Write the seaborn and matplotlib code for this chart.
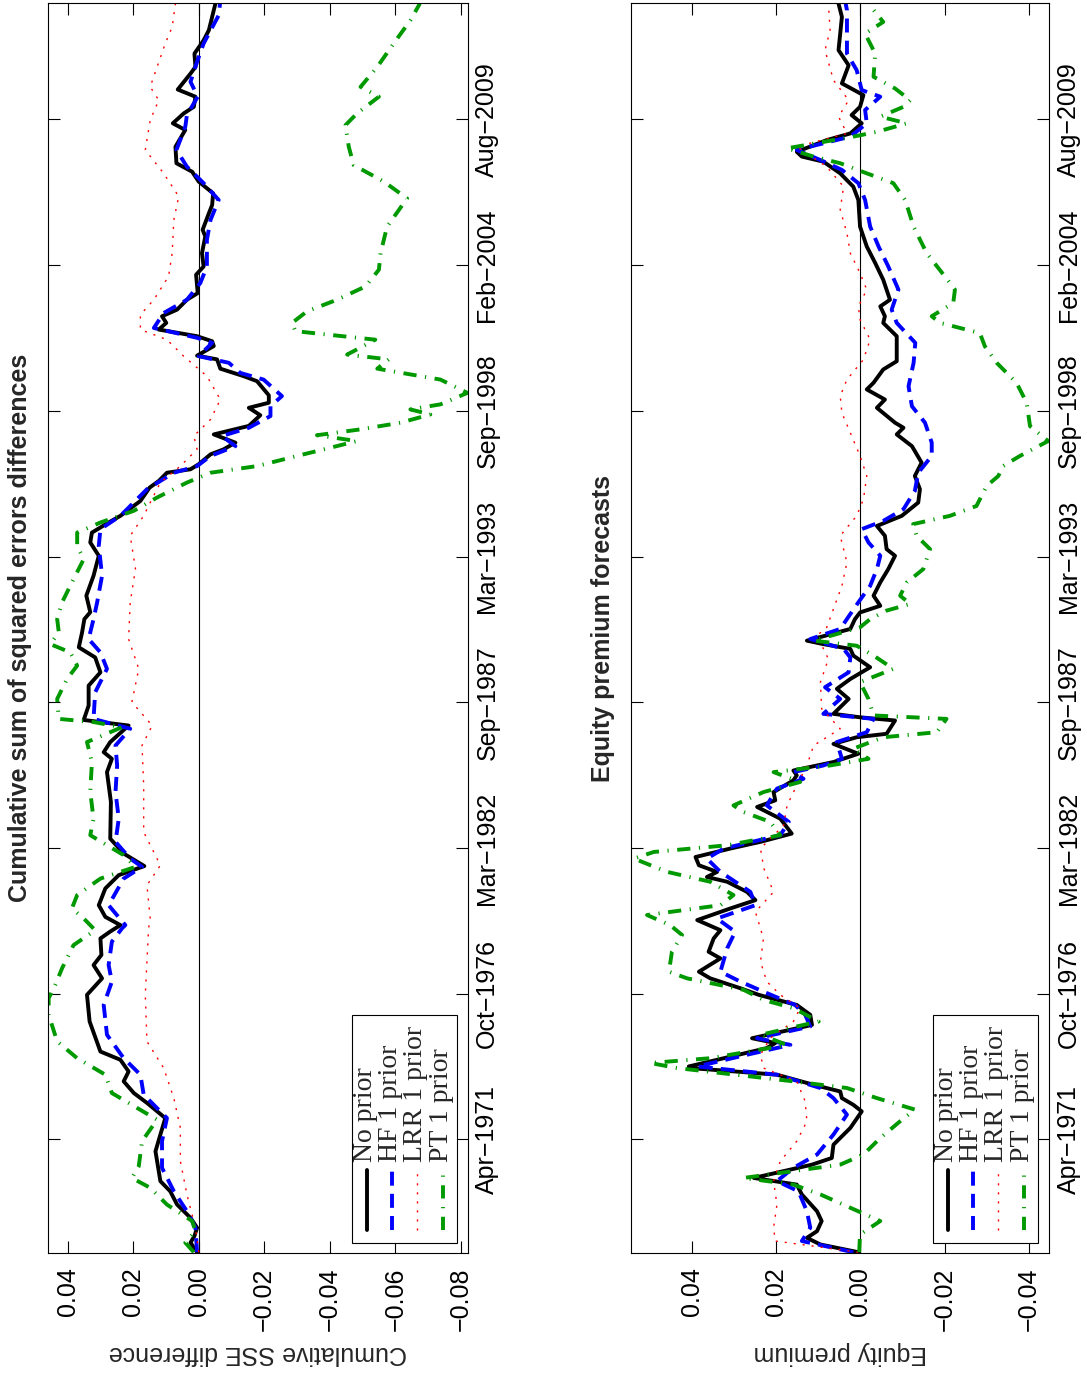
import matplotlib
matplotlib.use("Agg")
import matplotlib.pyplot as plt
import seaborn as sns

# date axis (decimal years) and its tick labels
date_ticks = [1971.288, 1976.764, 1982.240, 1987.715, 1993.191, 1998.667, 2004.142, 2009.618]
date_labels = ["Apr\u22121971", "Oct\u22121976", "Mar\u22121982", "Sep\u22121987",
               "Mar\u22121993", "Sep\u22121998", "Feb\u22122004", "Aug\u22122009"]

sse_ticks = [0.04, 0.02, 0.0, -0.02, -0.04, -0.06, -0.08]
sse_ticklabels = ["0.04", "0.02", "0.00", "\u22120.02", "\u22120.04", "\u22120.06", "\u22120.08"]
ep_ticks = [0.04, 0.02, 0.0, -0.02, -0.04]
ep_ticklabels = ["0.04", "0.02", "0.00", "\u22120.02", "\u22120.04"]

series_names = ["No prior", "HF 1 prior", "LRR 1 prior", "PT 1 prior"]

# ---- cumulative SSE differences ----
sse_none_yr = [1967.05, 1967.41, 1967.66, 1967.97, 1968.34, 1968.84, 1969.34, 1969.72, 1970.47, 1970.84,
               1971.47, 1972.09, 1972.66, 1973.03, 1973.47, 1973.84, 1974.28, 1974.59, 1975.72, 1976.72,
               1977.34, 1977.84, 1978.22, 1978.84, 1979.10, 1979.34, 1979.65, 1980.09, 1980.72, 1981.22,
               1981.56, 1982.03, 1982.59, 1983.97, 1985.09, 1985.59, 1985.84, 1986.22, 1986.84, 1987.05,
               1987.59, 1988.34, 1988.84, 1989.40, 1989.78, 1990.34, 1990.84, 1991.10, 1991.72, 1992.47,
               1993.22, 1993.72, 1994.09, 1994.47, 1994.72, 1995.28, 1995.78, 1996.03, 1996.34, 1996.47,
               1996.66, 1997.03, 1997.22, 1997.47, 1997.78, 1998.10, 1998.50, 1998.78, 1998.97, 1999.25,
               1999.78, 1999.97, 2000.25, 2000.60, 2000.74, 2001.10, 2001.28, 2001.47, 2001.72, 2001.97,
               2002.22, 2002.47, 2002.84, 2003.09, 2003.78, 2004.09, 2004.59, 2005.22, 2005.47, 2006.09,
               2006.40, 2006.84, 2007.28, 2007.65, 2007.97, 2008.59, 2009.22, 2009.47, 2009.84, 2010.09,
               2010.47, 2010.74, 2011.34, 2011.59, 2012.09, 2012.59, 2012.97, 2013.47, 2013.97]
sse_none = [0.0005, 0.0025, 0.0013, 0.0005, 0.0025, 0.0066, 0.0087, 0.0117, 0.0127, 0.0132,
            0.0117, 0.0102, 0.0158, 0.0198, 0.0229, 0.0214, 0.0239, 0.0300, 0.0333, 0.0341,
            0.0295, 0.0321, 0.0297, 0.0300, 0.0270, 0.0239, 0.0285, 0.0305, 0.0285, 0.0244,
            0.0166, 0.0229, 0.0270, 0.0268, 0.0280, 0.0265, 0.0290, 0.0270, 0.0214, 0.0351,
            0.0336, 0.0336, 0.0300, 0.0316, 0.0366, 0.0356, 0.0349, 0.0331, 0.0343, 0.0321,
            0.0305, 0.0331, 0.0326, 0.0275, 0.0239, 0.0178, 0.0150, 0.0122, 0.0097, 0.0025,
            0.0000, -0.0036, -0.0076, -0.0112, -0.0046, -0.0153, -0.0188, -0.0153, -0.0214, -0.0214,
            -0.0178, -0.0137, -0.0066, -0.0056, 0.0005, -0.0046, -0.0041, 0.0005, 0.0122, 0.0099,
            0.0112, 0.0066, 0.0036, 0.0003, 0.0008, -0.0015, -0.0010, -0.0020, -0.0012, -0.0031,
            -0.0041, -0.0044, 0.0000, 0.0020, 0.0068, 0.0071, 0.0041, 0.0079, 0.0046, 0.0015,
            0.0010, 0.0064, 0.0025, 0.0010, 0.0013, -0.0015, -0.0031, -0.0041, -0.0051]

sse_hf_yr = [1967.05, 1967.97, 1968.59, 1969.34, 1970.22, 1971.22, 1972.09, 1972.97, 1973.72, 1974.34,
             1975.22, 1976.34, 1977.22, 1977.84, 1978.72, 1979.22, 1979.34, 1980.09, 1981.09, 1981.53,
             1981.84, 1982.47, 1983.34, 1984.34, 1985.34, 1986.09, 1986.72, 1987.09, 1988.09, 1988.97,
             1989.59, 1990.09, 1990.84, 1991.47, 1992.47, 1993.59, 1994.22, 1994.72, 1995.72, 1996.34,
             1996.59, 1996.97, 1997.34, 1997.72, 1998.03, 1998.47, 1998.84, 1999.22, 1999.84, 2000.09,
             2000.47, 2000.72, 2001.22, 2001.41, 2001.78, 2002.34, 2002.84, 2003.47, 2004.09, 2005.09,
             2005.84, 2006.59, 2007.22, 2007.84, 2008.47, 2009.34, 2009.78, 2010.47, 2011.03, 2011.78,
             2012.47, 2012.84, 2013.53, 2013.97]
sse_hf = [0.0005, 0.0010, 0.0036, 0.0076, 0.0112, 0.0112, 0.0097, 0.0168, 0.0178, 0.0229,
          0.0280, 0.0290, 0.0265, 0.0275, 0.0265, 0.0234, 0.0224, 0.0275, 0.0229, 0.0173,
          0.0209, 0.0254, 0.0244, 0.0254, 0.0249, 0.0254, 0.0209, 0.0321, 0.0316, 0.0280,
          0.0300, 0.0336, 0.0321, 0.0310, 0.0295, 0.0305, 0.0300, 0.0239, 0.0158, 0.0076,
          0.0005, -0.0036, -0.0112, -0.0071, -0.0153, -0.0219, -0.0219, -0.0254, -0.0198, -0.0127,
          -0.0092, 0.0000, -0.0041, 0.0005, 0.0137, 0.0107, 0.0036, -0.0005, -0.0025, -0.0025,
          -0.0036, -0.0061, -0.0015, 0.0036, 0.0068, 0.0041, 0.0036, 0.0003, 0.0025, 0.0005,
          -0.0015, -0.0031, -0.0061, -0.0065]

sse_lrr_yr = [1967.05, 1967.97, 1969.22, 1970.47, 1971.72, 1972.84, 1973.97, 1974.97, 1976.72, 1977.97,
              1979.22, 1979.59, 1980.84, 1981.59, 1982.84, 1984.59, 1986.09, 1986.84, 1987.72, 1988.97,
              1990.09, 1991.47, 1992.72, 1993.97, 1994.72, 1995.22, 1995.97, 1996.59, 1997.22, 1997.72,
              1998.34, 1999.09, 1999.97, 2000.72, 2001.34, 2001.72, 2002.28, 2002.84, 2003.72, 2004.59,
              2005.84, 2006.72, 2007.59, 2008.47, 2009.59, 2010.34, 2010.84, 2011.59, 2012.47, 2013.09,
              2013.97]
sse_lrr = [0.0000, 0.0010, 0.0036, 0.0056, 0.0056, 0.0076, 0.0107, 0.0158, 0.0163, 0.0158,
           0.0153, 0.0148, 0.0158, 0.0117, 0.0168, 0.0168, 0.0173, 0.0142, 0.0204, 0.0183,
           0.0214, 0.0209, 0.0193, 0.0209, 0.0168, 0.0148, 0.0117, 0.0056, 0.0005, 0.0015,
           -0.0036, -0.0066, -0.0025, 0.0046, 0.0097, 0.0178, 0.0178, 0.0137, 0.0092, 0.0081,
           0.0076, 0.0061, 0.0107, 0.0163, 0.0148, 0.0122, 0.0148, 0.0127, 0.0102, 0.0081,
           0.0071]

sse_pt_yr = [1967.05, 1967.41, 1967.84, 1968.22, 1968.84, 1969.47, 1969.84, 1970.28, 1971.22, 1972.03,
             1972.47, 1973.03, 1973.72, 1974.34, 1974.97, 1975.97, 1976.59, 1977.09, 1977.72, 1978.59,
             1979.15, 1979.59, 1979.97, 1980.47, 1981.09, 1981.53, 1981.97, 1982.72, 1983.34, 1984.34,
             1985.47, 1986.22, 1986.78, 1986.97, 1987.09, 1987.84, 1988.59, 1989.09, 1989.59, 1989.90,
             1990.34, 1990.84, 1991.47, 1992.22, 1993.09, 1993.59, 1994.09, 1994.47, 1994.91, 1995.41,
             1995.97, 1996.34, 1996.59, 1996.97, 1997.22, 1997.53, 1997.75, 1997.97, 1998.22, 1998.53,
             1998.72, 1998.91, 1999.34, 1999.84, 2000.25, 2000.60, 2000.78, 2001.34, 2001.66, 2001.97,
             2002.41, 2002.84, 2003.34, 2003.97, 2004.59, 2005.59, 2006.65, 2007.28, 2007.90, 2008.59,
             2009.40, 2009.84, 2010.47, 2010.84, 2011.59, 2012.47, 2013.34, 2013.97]
sse_pt = [0.0015, 0.0041, 0.0010, 0.0020, 0.0097, 0.0148, 0.0204, 0.0183, 0.0173, 0.0127,
          0.0188, 0.0265, 0.0285, 0.0371, 0.0432, 0.0458, 0.0458, 0.0438, 0.0417, 0.0382,
          0.0316, 0.0351, 0.0387, 0.0371, 0.0300, 0.0193, 0.0229, 0.0331, 0.0321, 0.0331,
          0.0326, 0.0341, 0.0234, 0.0321, 0.0427, 0.0432, 0.0402, 0.0371, 0.0392, 0.0453,
          0.0427, 0.0432, 0.0417, 0.0387, 0.0351, 0.0371, 0.0371, 0.0300, 0.0198, 0.0127,
          0.0036, -0.0036, -0.0178, -0.0300, -0.0382, -0.0483, -0.0361, -0.0494, -0.0616, -0.0707,
          -0.0646, -0.0738, -0.0820, -0.0738, -0.0545, -0.0580, -0.0453, -0.0539, -0.0295, -0.0285,
          -0.0331, -0.0422, -0.0509, -0.0550, -0.0555, -0.0575, -0.0636, -0.0565, -0.0473, -0.0458,
          -0.0448, -0.0483, -0.0550, -0.0494, -0.0545, -0.0595, -0.0646, -0.0675]

# ---- equity premium forecasts ----
ep_none_yr = [1967.05, 1967.34, 1967.59, 1967.84, 1968.22, 1968.59, 1969.22, 1969.59, 1969.84, 1970.34,
              1970.59, 1971.09, 1971.72, 1972.34, 1972.59, 1972.84, 1973.09, 1973.34, 1973.72, 1973.97,
              1974.03, 1974.72, 1974.91, 1975.09, 1975.59, 1975.97, 1976.34, 1976.72, 1976.97, 1977.34,
              1977.59, 1978.09, 1978.34, 1978.84, 1979.15, 1979.53, 1979.97, 1980.28, 1980.59, 1980.97,
              1981.15, 1981.34, 1981.59, 1981.90, 1982.22, 1982.47, 1982.78, 1983.34, 1983.78, 1984.03,
              1984.34, 1984.78, 1984.97, 1985.15, 1985.47, 1985.78, 1986.15, 1986.40, 1986.53, 1987.03,
              1987.15, 1987.28, 1987.84, 1988.22, 1988.59, 1989.03, 1989.47, 1989.72, 1989.90, 1990.03,
              1990.47, 1990.84, 1991.09, 1991.34, 1991.72, 1992.22, 1992.72, 1993.22, 1993.47, 1993.97,
              1994.34, 1994.72, 1995.22, 1995.72, 1996.22, 1996.72, 1997.34, 1997.78, 1998.03, 1998.22,
              1998.78, 1999.09, 1999.47, 1999.72, 2000.22, 2000.53, 2001.47, 2001.97, 2002.22, 2002.59,
              2002.84, 2003.59, 2004.22, 2004.84, 2005.59, 2006.59, 2007.09, 2007.59, 2008.03, 2008.22,
              2008.40, 2008.84, 2009.09, 2009.47, 2009.78, 2010.09, 2010.53, 2010.97, 2011.65, 2012.22,
              2012.84, 2013.47, 2013.97]
ep_none = [0.0005, 0.0095, 0.0127, 0.0103, 0.0092, 0.0103, 0.0139, 0.0151, 0.0253, 0.0115,
           0.0068, 0.0064, 0.0024, -0.0003, 0.0017, 0.0044, 0.0048, 0.0111, 0.0198, 0.0403,
           0.0407, 0.0222, 0.0202, 0.0257, 0.0115, 0.0119, 0.0151, 0.0241, 0.0285, 0.0356,
           0.0383, 0.0332, 0.0360, 0.0348, 0.0332, 0.0387, 0.0308, 0.0249, 0.0269, 0.0316,
           0.0364, 0.0340, 0.0383, 0.0391, 0.0308, 0.0237, 0.0163, 0.0190, 0.0245, 0.0202,
           0.0206, 0.0159, 0.0151, 0.0159, 0.0064, 0.0005, 0.0064, 0.0009, -0.0062, -0.0082,
           0.0001, 0.0064, 0.0028, 0.0056, 0.0024, -0.0023, 0.0017, 0.0024, 0.0088, 0.0127,
           0.0024, 0.0013, 0.0001, -0.0047, -0.0031, -0.0047, -0.0066, -0.0082, -0.0062, -0.0058,
           -0.0039, -0.0098, -0.0137, -0.0141, -0.0129, -0.0145, -0.0122, -0.0086, -0.0102, -0.0082,
           -0.0039, -0.0058, -0.0015, -0.0031, -0.0054, -0.0086, -0.0086, -0.0054, -0.0058, -0.0047,
           -0.0070, -0.0054, -0.0035, -0.0015, 0.0001, 0.0005, 0.0017, 0.0048, 0.0088, 0.0139,
           0.0151, 0.0080, 0.0024, -0.0003, 0.0021, 0.0001, -0.0007, 0.0044, 0.0028, 0.0052,
           0.0048, 0.0044, 0.0052]

ep_hf_yr = [1967.05, 1967.47, 1967.97, 1968.59, 1969.34, 1969.72, 1970.22, 1970.72, 1971.47, 1972.22,
            1972.84, 1973.22, 1973.72, 1974.03, 1974.47, 1974.84, 1975.09, 1975.53, 1975.97, 1976.34,
            1976.84, 1977.22, 1977.59, 1978.47, 1979.09, 1979.59, 1980.09, 1980.59, 1980.97, 1981.34,
            1981.84, 1982.22, 1982.72, 1983.22, 1983.84, 1984.47, 1984.84, 1985.09, 1985.34, 1985.59,
            1986.22, 1986.59, 1987.09, 1987.28, 1987.84, 1988.28, 1988.84, 1989.40, 1989.72, 1990.09,
            1990.47, 1991.03, 1991.47, 1992.09, 1992.72, 1993.22, 1993.72, 1994.22, 1994.53, 1994.97,
            1995.66, 1996.34, 1996.97, 1997.47, 1998.22, 1998.84, 1999.59, 2000.47, 2001.22, 2001.97,
            2002.47, 2003.22, 2004.09, 2004.84, 2005.59, 2006.59, 2007.22, 2007.72, 2008.09, 2008.47,
            2008.97, 2009.47, 2009.97, 2010.47, 2010.72, 2011.47, 2012.09, 2012.84, 2013.72, 2013.97]
ep_hf = [0.0017, 0.0139, 0.0119, 0.0127, 0.0147, 0.0198, 0.0159, 0.0103, 0.0064, 0.0032,
         0.0064, 0.0095, 0.0198, 0.0387, 0.0269, 0.0166, 0.0245, 0.0119, 0.0131, 0.0155,
         0.0230, 0.0285, 0.0332, 0.0316, 0.0297, 0.0340, 0.0249, 0.0261, 0.0297, 0.0332,
         0.0364, 0.0324, 0.0190, 0.0170, 0.0222, 0.0198, 0.0135, 0.0159, 0.0088, 0.0044,
         0.0056, -0.0015, -0.0031, 0.0088, 0.0048, 0.0084, 0.0028, 0.0024, 0.0040, 0.0119,
         0.0048, 0.0024, 0.0005, -0.0023, -0.0039, -0.0047, -0.0019, -0.0003, -0.0054, -0.0102,
         -0.0129, -0.0137, -0.0169, -0.0169, -0.0153, -0.0122, -0.0114, -0.0126, -0.0130, -0.0086,
         -0.0074, -0.0090, -0.0066, -0.0043, -0.0023, -0.0011, 0.0005, 0.0044, 0.0095, 0.0151,
         0.0024, -0.0015, -0.0011, -0.0047, -0.0003, 0.0009, 0.0032, 0.0032, 0.0032, 0.0035]

ep_lrr_yr = [1967.05, 1967.47, 1967.97, 1968.84, 1969.72, 1970.47, 1971.22, 1971.97, 1972.72, 1973.47,
             1973.97, 1974.47, 1975.09, 1975.72, 1976.22, 1976.72, 1977.22, 1977.97, 1978.84, 1979.84,
             1980.59, 1981.47, 1982.22, 1983.09, 1983.84, 1984.59, 1985.34, 1986.09, 1986.72, 1987.47,
             1988.47, 1989.34, 1990.22, 1990.53, 1991.22, 1992.09, 1992.97, 1993.97, 1994.72, 1995.34,
             1996.22, 1996.97, 1997.84, 1998.59, 1999.22, 1999.84, 2000.59, 2001.34, 2002.09, 2002.59,
             2003.22, 2003.84, 2004.59, 2005.34, 2006.22, 2007.09, 2007.84, 2008.59, 2009.09, 2009.72,
             2010.34, 2011.09, 2012.22, 2012.97, 2013.97]
ep_lrr = [0.0005, 0.0202, 0.0206, 0.0198, 0.0206, 0.0190, 0.0151, 0.0127, 0.0131, 0.0151,
          0.0230, 0.0237, 0.0214, 0.0159, 0.0143, 0.0190, 0.0222, 0.0237, 0.0230, 0.0249,
          0.0206, 0.0229, 0.0237, 0.0182, 0.0174, 0.0151, 0.0127, 0.0111, 0.0048, 0.0092,
          0.0095, 0.0076, 0.0103, 0.0080, 0.0064, 0.0044, 0.0032, 0.0048, 0.0009, -0.0007,
          -0.0015, 0.0001, 0.0024, 0.0044, 0.0048, 0.0032, -0.0007, -0.0023, 0.0001, 0.0005,
          -0.0015, 0.0001, 0.0024, 0.0032, 0.0048, 0.0040, 0.0080, 0.0151, 0.0032, 0.0052,
          0.0028, 0.0064, 0.0084, 0.0072, 0.0076]

ep_pt_yr = [1967.05, 1967.72, 1968.22, 1968.72, 1969.22, 1969.59, 1969.84, 1970.34, 1970.72, 1971.34,
            1971.97, 1972.41, 1972.84, 1973.22, 1973.47, 1973.97, 1974.16, 1974.34, 1974.84, 1975.22,
            1975.72, 1976.22, 1976.53, 1976.91, 1977.34, 1977.59, 1978.34, 1978.97, 1979.34, 1979.72,
            1980.09, 1980.47, 1980.97, 1981.34, 1981.84, 1982.09, 1982.34, 1982.72, 1983.22, 1983.59,
            1983.84, 1984.34, 1984.72, 1985.09, 1985.34, 1985.59, 1985.97, 1986.40, 1986.59, 1987.09,
            1987.22, 1987.84, 1988.47, 1988.97, 1989.47, 1989.84, 1990.03, 1990.53, 1990.84, 1991.16,
            1991.41, 1991.72, 1992.22, 1992.72, 1993.47, 1993.97, 1994.41, 1994.72, 1995.09, 1995.84,
            1996.22, 1996.59, 1996.97, 1997.53, 1998.09, 1998.97, 1999.72, 2000.47, 2001.09, 2001.59,
            2001.97, 2002.22, 2002.72, 2003.22, 2003.72, 2004.59, 2005.59, 2006.59, 2007.22, 2007.59,
            2007.97, 2008.22, 2008.53, 2008.97, 2009.15, 2009.47, 2009.72, 2010.09, 2010.34, 2010.78,
            2011.22, 2012.09, 2012.84, 2013.28, 2013.97]
ep_pt = [0.0003, 0.0001, -0.0047, 0.0024, 0.0095, 0.0159, 0.0277, 0.0048, -0.0007, -0.0047,
         -0.0094, -0.0129, -0.0039, 0.0032, 0.0159, 0.0435, 0.0498, 0.0356, 0.0174, 0.0237,
         0.0099, 0.0159, 0.0230, 0.0277, 0.0411, 0.0454, 0.0447, 0.0423, 0.0451, 0.0506,
         0.0332, 0.0301, 0.0356, 0.0458, 0.0537, 0.0490, 0.0316, 0.0190, 0.0214, 0.0277,
         0.0301, 0.0230, 0.0143, 0.0206, 0.0072, -0.0019, 0.0017, -0.0054, -0.0181, -0.0204,
         -0.0031, -0.0019, 0.0001, -0.0078, -0.0031, 0.0009, 0.0111, 0.0001, -0.0023, -0.0062,
         -0.0118, -0.0094, -0.0110, -0.0149, -0.0165, -0.0133, -0.0125, -0.0212, -0.0275, -0.0299,
         -0.0327, -0.0338, -0.0378, -0.0445, -0.0402, -0.0394, -0.0370, -0.0323, -0.0295, -0.0283,
         -0.0189, -0.0169, -0.0220, -0.0224, -0.0200, -0.0157, -0.0126, -0.0106, -0.0078, -0.0015,
         0.0048, 0.0111, 0.0174, 0.0017, -0.0039, -0.0110, -0.0047, -0.0102, -0.0118, -0.0082,
         -0.0031, -0.0035, -0.0011, -0.0054, -0.0019]

# line styles: (color, width in pt, linestyle)
styles = [
    ("black", 2.8, "-"),
    ("#0000ff", 2.8, (0, (3.6, 2.1))),
    ("#ff0000", 1.0, (0, (1.5, 5.0))),
    ("#009900", 2.8, (0, (3.4, 2.2, 0.3, 2.2))),
]

sns.set_style("white")
plt.rcParams["font.family"] = ["Liberation Sans", "DejaVu Sans"]

W, H = 1087, 1373
fig = plt.figure(figsize=(W / 100, H / 100), dpi=100)
ax1 = fig.add_axes([48 / W, 120 / H, 419.7 / W, 1249.7 / H])
ax2 = fig.add_axes([631 / W, 120 / H, 418 / W, 1249.7 / H])


def draw_panel(ax, data, xlim, xticks, xticklabels):
    ax.axvline(0, color="black", linewidth=0.8, zorder=1)
    for (yrs, vals), (col, lw, ls) in zip(data, styles):
        sns.lineplot(x=vals, y=yrs, sort=False, estimator=None, ax=ax, color=col,
                     linewidth=lw, linestyle=ls, legend=False, zorder=2)
    ax.set_xlim(*xlim)
    ax.set_ylim(1967.02, 2013.98)
    ax.set_xticks(xticks)
    ax.set_xticklabels(xticklabels, rotation=90)
    ax.set_yticks(date_ticks)
    ax.set_yticklabels(date_labels, rotation=90, va="center")
    ax.set_xlabel("")
    ax.set_ylabel("")
    ax.tick_params(direction="in", length=8.6, width=0.8, color="black", labelsize=18,
                   top=True, bottom=True, left=True, right=True,
                   labelleft=False, labelright=True, labelcolor="black")
    ax.tick_params(axis="x", pad=10.5)
    ax.tick_params(axis="y", pad=5.5)
    for s in ax.spines.values():
        s.set_linewidth(0.8)
        s.set_color("black")
    ax.grid(False)

    # legend box with vertical entries (bottom-right corner)
    ax.add_patch(plt.Rectangle((0.7236, 0.008), 0.2502, 0.1824, transform=ax.transAxes,
                               facecolor="white", edgecolor="black", linewidth=0.8, zorder=5))
    xs = [0.7594, 0.8189, 0.8785, 0.9404]
    for x, name, (col, lw, ls) in zip(xs, series_names, styles):
        ax.plot([x, x], [0.0184, 0.0664], transform=ax.transAxes, color=col,
                linewidth=lw, linestyle=ls, zorder=6)
        ax.text(x - 0.004, 0.0725, name, transform=ax.transAxes, rotation=90,
                ha="center", va="bottom", fontsize=20, family=["Liberation Serif", "DejaVu Serif"],
                zorder=6)


draw_panel(ax1, [(sse_none_yr, sse_none), (sse_hf_yr, sse_hf), (sse_lrr_yr, sse_lrr), (sse_pt_yr, sse_pt)],
           (0.046, -0.0821), sse_ticks, sse_ticklabels)
draw_panel(ax2, [(ep_none_yr, ep_none), (ep_hf_yr, ep_hf), (ep_lrr_yr, ep_lrr), (ep_pt_yr, ep_pt)],
           (0.0544, -0.0447), ep_ticks, ep_ticklabels)

# titles (rotated, to the left of each panel) and upside-down axis labels
fig.text(20 / W, 1 - 628 / H, "Cumulative sum of squared errors differences", rotation=90,
         ha="center", va="center", fontsize=18, fontweight="bold")
fig.text(603 / W, 1 - 628 / H, "Equity premium forecasts", rotation=90,
         ha="center", va="center", fontsize=18, fontweight="bold")
fig.text(258 / W, 1 - 1353 / H, "Cumulative SSE difference", rotation=180,
         ha="center", va="center", fontsize=18)
fig.text(840 / W, 1 - 1353 / H, "Equity premium", rotation=180,
         ha="center", va="center", fontsize=18)

fig.savefig("out.png", dpi=100, facecolor="white")
